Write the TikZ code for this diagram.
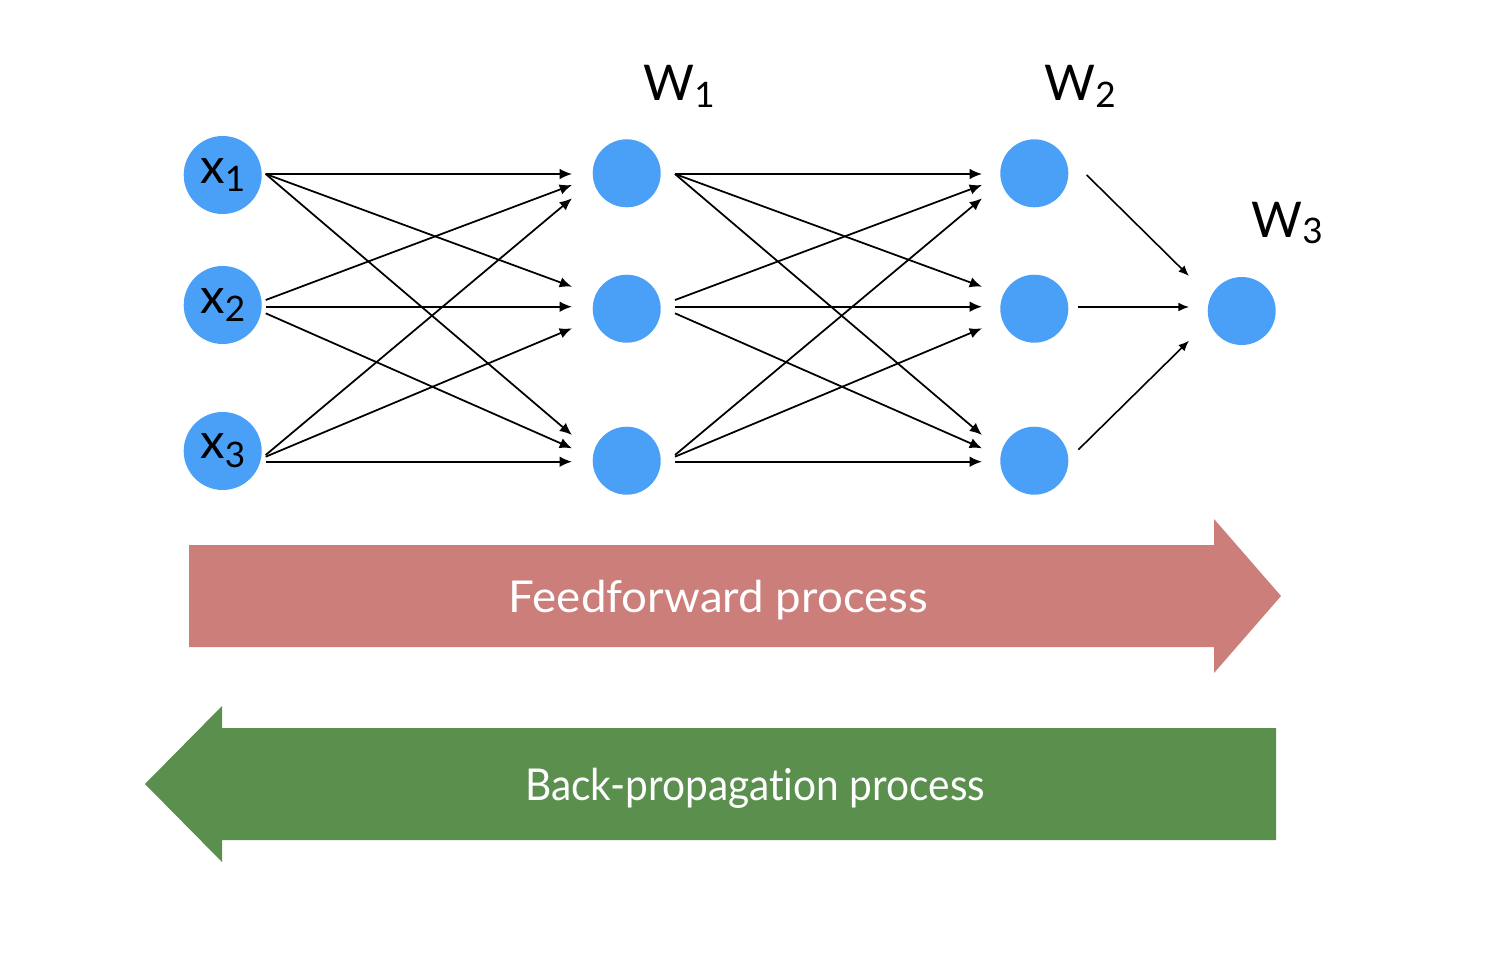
\documentclass[tikz,border=0pt]{standalone}
\usepackage{fontspec}
\setmainfont{Lato}[Ligatures={NoCommon,NoRare,NoDiscretionary}]
\usetikzlibrary{calc,arrows.meta}
\definecolor{nodeblue}{RGB}{74,160,246}
\definecolor{ffred}{RGB}{203,126,122}
\definecolor{bpgreen}{RGB}{90,143,78}
\newcommand{\bigtxt}{\fontsize{28}{30}\selectfont}
\newcommand{\subtxt}{\fontsize{20}{22}\selectfont}
\begin{document}
\begin{tikzpicture}[x=0.02cm,y=-0.02cm,
  inneuron/.style={circle,fill=nodeblue,minimum size=1.56cm,inner sep=0pt},
  neuron/.style={circle,fill=nodeblue,minimum size=1.36cm,inner sep=0pt},
  conn/.style={draw=black,line width=1pt,-{Latex[length=7pt,width=6pt]}},
  conns/.style={draw=black,line width=0.9pt,-{Latex[length=6pt,width=5pt]}},
  wlabel/.style={inner sep=0pt,anchor=base},
  proclabel/.style={inner sep=0pt,anchor=base,text=white,font=\fontsize{25}{27}\selectfont}]
\useasboundingbox (0,0) rectangle (1496,966);
% input nodes
\node[inneuron] (x1) at (222.7,175) {\bigtxt x\raisebox{-5pt}{\subtxt 1}};
\node[inneuron] (x2) at (222.7,305) {\bigtxt x\raisebox{-5pt}{\subtxt 2}};
\node[inneuron] (x3) at (222.7,451) {\bigtxt x\raisebox{-5pt}{\subtxt 3}};
% hidden layer 1
\node[neuron] (h1a) at (626.7,173.3) {};
\node[neuron] (h1b) at (626.7,308.7) {};
\node[neuron] (h1c) at (626.7,460.7) {};
% hidden layer 2
\node[neuron] (h2a) at (1034.3,173.3) {};
\node[neuron] (h2b) at (1034.3,308.7) {};
\node[neuron] (h2c) at (1034.3,460.7) {};
% output
\node[neuron] (out) at (1241.7,311) {};
% weight labels
\node[wlabel] (w1) at (679,101) {\bigtxt W\raisebox{-3.5pt}{\subtxt 1}};
\node[wlabel] (w2) at (1080,101) {\bigtxt W\raisebox{-3.5pt}{\subtxt 2}};
\node[wlabel] (w3) at (1287,237) {\bigtxt W\raisebox{-3.5pt}{\subtxt 3}};
% layer 1 connections
\draw[conn] ($(x1)+(43,-1)$) -- ($(h1a)+(-54.7,0.7)$);
\draw[conn] ($(x1)+(43,-1)$) -- ($(h1b)+(-54.7,-22)$);
\draw[conn] ($(x1)+(43,-1)$) -- ($(h1c)+(-54.7,-25.7)$);
\draw[conn] ($(x2)+(43,-5)$) -- ($(h1a)+(-54.7,11.7)$);
\draw[conn] ($(x2)+(43,1.7)$) -- ($(h1b)+(-54.7,-2)$);
\draw[conn] ($(x2)+(43,8.3)$) -- ($(h1c)+(-54.7,-12.4)$);
\draw[conn] ($(x3)+(43,4)$) -- ($(h1a)+(-54.7,25)$);
\draw[conn] ($(x3)+(43,5.7)$) -- ($(h1b)+(-54.7,19.6)$);
\draw[conn] ($(x3)+(43,10.7)$) -- ($(h1c)+(-54.7,1)$);
% layer 2 connections
\draw[conn] ($(h1a)+(48.3,0.7)$) -- ($(h2a)+(-52.3,0.7)$);
\draw[conn] ($(h1a)+(48.3,0.7)$) -- ($(h2b)+(-52.3,-22)$);
\draw[conn] ($(h1a)+(48.3,0.7)$) -- ($(h2c)+(-52.3,-25.7)$);
\draw[conn] ($(h1b)+(48.3,-8.7)$) -- ($(h2a)+(-52.3,11.7)$);
\draw[conn] ($(h1b)+(48.3,-2)$) -- ($(h2b)+(-52.3,-2)$);
\draw[conn] ($(h1b)+(48.3,4.6)$) -- ($(h2c)+(-52.3,-12.4)$);
\draw[conn] ($(h1c)+(48.3,-5.7)$) -- ($(h2a)+(-52.3,25)$);
\draw[conn] ($(h1c)+(48.3,-4)$) -- ($(h2b)+(-52.3,19.6)$);
\draw[conn] ($(h1c)+(48.3,1)$) -- ($(h2c)+(-52.3,1)$);
% layer 3 connections
\draw[conns] ($(h2a)+(52.4,1.7)$) -- ($(out)+(-52.7,-35)$);
\draw[conns] ($(h2b)+(43.7,-1.7)$) -- ($(out)+(-52.7,-4)$);
\draw[conns] ($(h2c)+(44,-11)$) -- ($(out)+(-52.7,29.7)$);
% feedforward arrow
\fill[ffred] (189,545) -- (1214,545) -- (1214,519) -- (1281,596) -- (1214,673) -- (1214,647) -- (189,647) -- cycle;
\node[proclabel] (ff) at (718.5,612) {\scalebox{1.04}[1]{Feedforward process}};
% back-propagation arrow
\fill[bpgreen] (1276,728) -- (222,728) -- (222,706) -- (145,784) -- (222,862) -- (222,840) -- (1276,840) -- cycle;
\node[proclabel] (bp) at (755,800) {\scalebox{0.925}[1]{Back-propagation process}};
\end{tikzpicture}
\end{document}
